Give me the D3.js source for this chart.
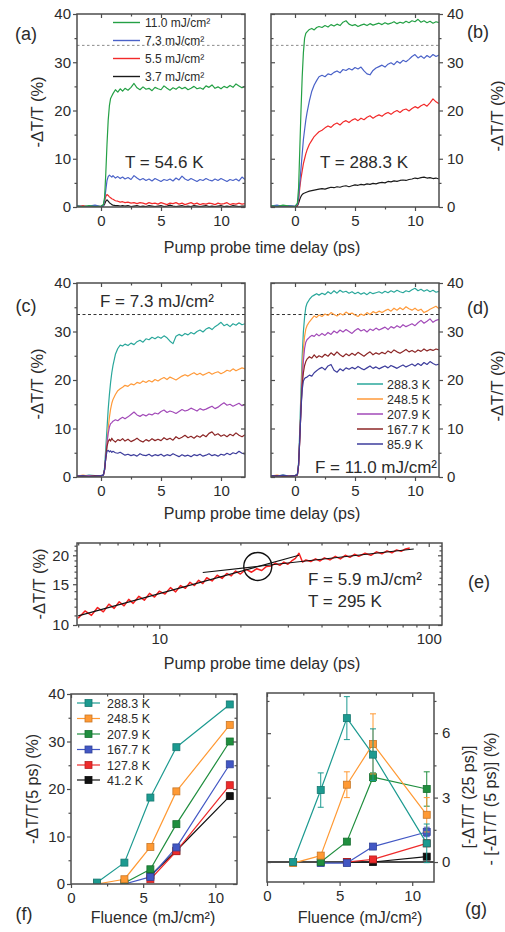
<!DOCTYPE html>
<html><head><meta charset="utf-8">
<script src="https://cdn.jsdelivr.net/npm/d3@7"></script>
<style>
body{margin:0;background:#fff;}
svg{display:block;font-family:"Liberation Sans",Arial,Helvetica,sans-serif;}
</style></head><body>
<svg id="fig" width="505" height="932"></svg>
<script>
// ---------------- DATA ----------------
// shared delay axis (ps) for panels a-d
const tDelay = [-2,-1.5,-1,-0.5,0,0.2,0.3,0.4,0.5,0.6,0.7,0.8,0.9,1.0,1.2,1.4,1.6,1.8,2.0,
 2.25,2.5,2.75,3.0,3.25,3.5,3.75,4.0,4.25,4.5,
 4.75,5.0,5.25,5.5,5.75,6.0,6.25,6.5,6.75,7.0,
 7.25,7.5,7.75,8.0,8.25,8.5,8.75,9.0,9.25,9.5,
 9.75,10.0,10.25,10.5,10.75,11.0,11.25,11.5,11.75,12.0];

const fluenceLabels = ["11.0 mJ/cm\u00B2","7.3 mJ/cm\u00B2","5.5 mJ/cm\u00B2","3.7 mJ/cm\u00B2"];
const dashedLevel = [33.5];

// (a) T = 54.6 K
const a_F110 = [0.2,0.1,0.3,0.1,0.2,0.5,2,7,13,18,21,22.5,23,23.5,24.3,23.8,24.5,24,24.6,
 24.2,24.8,25.6,24.7,24.3,24.9,24.4,24.6,24.1,24.8,
 24.5,24.3,25.1,24.6,24.2,24.7,24.4,24.9,24.5,24.8,
 24.3,24.6,25.0,24.5,24.7,24.4,25.1,24.8,25.3,24.6,
 24.9,24.5,25.0,24.7,25.2,24.8,25.5,25.1,24.7,25.0];
const a_F73 = [0.3,0.1,0.2,0.4,0.1,0.3,1.5,3.5,5.5,6.3,6.6,6.4,6.2,6.5,6.0,6.3,5.9,6.2,5.8,
 6.1,5.7,6.5,6.0,5.6,5.9,5.5,5.8,5.4,5.9,
 5.6,5.3,5.7,5.5,5.8,5.4,6.0,5.6,6.4,5.8,
 5.5,5.9,5.6,5.3,5.7,5.5,5.9,5.6,5.4,5.8,
 5.5,5.9,5.6,5.3,5.7,5.5,5.8,5.4,6.2,5.7];
const a_F55 = [0.1,0.3,0,0.2,0.1,0.4,1.2,2.2,2.6,2.4,2.1,1.9,1.7,1.6,1.3,1.2,1.0,1.1,0.9,
 1.0,0.8,0.9,0.7,0.9,0.8,0.6,0.9,0.7,0.8,
 0.6,0.9,0.7,0.5,0.8,0.7,0.9,0.6,0.8,0.5,
 0.7,0.9,0.6,0.8,0.5,0.7,0.6,0.8,0.7,0.5,
 0.8,0.6,0.7,0.9,0.5,0.7,0.6,0.8,0.6,0.7];
const a_F37 = [0,0.1,0,0.1,0,0.2,0.6,1.2,1.5,1.2,0.9,0.7,0.5,0.4,0.3,0.3,0.2,0.3,0.2,
 0.3,0.1,0.2,0.3,0.1,0.2,0.1,0.3,0.2,0.1,
 0.2,0.3,0.1,0.2,0.4,0.2,0.1,0.2,0.3,0.1,
 0.2,0.1,0.3,0.2,0.1,0.2,0.3,0.1,0.2,0.1,
 0.2,0.3,0.1,0.2,0.1,0.3,0.2,0.1,0.2,0.2];

// (b) T = 288.3 K
const b_F110 = [0.3,0.1,0.4,0.2,0.1,0.8,4,12,20,27,32,35,36,36.3,36.8,37.0,36.7,37.2,37.4,
 37.2,37.6,37.3,37.8,37.5,37.9,37.6,38.3,38.6,37.9,
 37.6,37.8,37.4,37.7,37.9,37.6,38.0,37.7,37.9,38.1,
 37.8,38.2,37.9,38.1,38.4,38.0,38.3,38.1,38.5,38.2,
 38.6,38.4,38.9,38.3,38.6,38.2,38.5,38.1,38.4,38.2];
const b_F73 = [0.2,0.4,0.1,0.3,0.2,0.5,2,5,8,11,14,16,18,19.5,22,24,25.3,26.2,27.0,
 27.3,27.0,27.6,27.4,27.9,28.2,27.8,28.5,28.3,28.7,
 28.4,28.9,28.6,29.0,28.2,27.6,27.4,28.3,28.8,29.1,
 29.4,29.0,29.6,29.9,29.5,30.2,29.8,30.4,30.1,30.6,
 31.2,31.6,30.9,31.3,30.8,31.4,31.0,31.6,31.2,31.5];
const b_F55 = [0.1,0.3,0,0.2,0.1,0.4,1.5,4,6,7.5,9,10,11,11.8,13,13.8,14.6,15.1,15.6,
 15.9,16.4,16.8,16.5,17.1,17.4,17.0,17.6,17.9,17.5,
 18.0,18.3,17.9,18.4,18.1,18.6,18.9,18.4,18.8,19.1,
 18.8,19.3,19.6,19.2,19.7,20.0,19.6,20.1,20.3,19.9,
 20.4,20.8,20.5,21.0,21.3,20.9,21.6,22.4,21.8,21.4];
const b_F37 = [0.1,0,0.2,0.1,0,0.2,0.8,1.6,2.2,2.6,2.8,2.9,3.0,3.1,3.3,3.4,3.5,3.6,3.7,
 3.8,3.7,3.9,4.1,4.0,4.2,4.1,4.3,4.4,4.2,
 4.4,4.6,4.5,4.7,4.6,4.8,4.7,4.9,4.8,5.0,
 5.1,5.0,5.3,5.2,5.4,5.3,5.5,5.6,5.5,5.7,
 5.8,6.0,5.9,6.1,6.2,6.0,6.1,5.9,6.0,5.8];

const tempLabelsCD = ["288.3 K","248.5 K","207.9 K","167.7 K","85.9 K"];
// (c) F = 7.3 mJ/cm2
const c_T2883 = [0.3,0.2,0.4,0.3,0.2,0.5,2,6,10,14,17,19.5,21.5,23,25.3,26.5,27.2,27.0,27.4,
 27.1,27.6,27.3,27.9,28.2,27.8,28.5,28.3,28.8,28.5,
 28.9,28.6,29.1,28.7,28.0,27.5,29.0,29.4,29.1,29.6,
 29.3,29.8,29.5,30.0,30.3,29.9,30.5,30.8,30.4,31.0,
 31.4,31.9,31.2,31.5,31.0,31.6,31.3,31.8,31.4,31.6];
const c_T2485 = [0.2,0.4,0.2,0.3,0.2,0.4,1.5,4,7,10,12.3,14,15.2,16.0,17.0,17.8,18.2,18.5,18.9,
 18.7,19.2,19.0,19.5,19.3,19.8,19.5,19.9,19.6,20.1,
 19.8,20.2,20.5,20.1,20.6,20.3,20.0,20.4,20.8,21.1,
 20.8,21.2,21.5,21.1,21.4,21.0,21.3,21.6,21.2,21.5,
 21.7,21.3,21.6,22.0,21.8,22.3,21.9,22.2,22.5,22.3];
const c_T2079 = [0.3,0.1,0.3,0.2,0.3,0.4,1.5,4,7,9,10.3,11.0,11.2,11.5,11.8,11.6,12.0,12.3,12.0,
 12.4,12.9,13.4,12.8,12.5,12.9,12.6,13.0,12.8,13.2,
 13.0,13.5,13.8,13.3,13.6,13.4,13.1,13.5,13.9,13.6,
 13.8,14.2,13.9,13.6,14.1,13.8,14.0,14.3,14.6,14.1,
 14.4,14.9,15.3,14.8,15.0,14.6,14.9,15.2,14.7,14.9];
const c_T1677 = [0.1,0.2,0.1,0.3,0.2,0.4,1.5,4,6.3,7.3,7.8,7.4,8.0,7.6,7.2,7.7,7.5,7.9,7.4,
 7.8,7.3,7.6,8.0,7.5,7.2,7.7,7.4,7.9,7.5,
 7.8,7.5,8.1,7.7,8.0,7.6,8.3,7.9,8.2,8.6,
 8.1,8.4,8.0,8.5,8.2,8.7,8.3,9.0,9.3,8.6,
 8.9,8.4,8.7,8.3,8.8,8.5,9.1,8.6,8.3,8.7];
const c_T859 = [0.2,0.3,0.1,0.2,0.3,0.4,1.5,4,5.3,5.5,5.2,5.4,5.1,5.3,5.0,4.9,5.1,4.8,4.5,
 4.7,4.4,4.6,4.3,4.8,4.5,4.4,4.7,4.3,4.6,
 4.4,4.7,4.3,4.6,4.4,4.8,4.5,4.2,4.6,4.3,
 4.5,4.2,4.6,4.4,4.7,4.3,4.5,4.8,4.4,4.6,
 4.3,4.7,4.5,4.9,4.6,5.0,4.8,5.3,4.9,4.7];

// (d) F = 11.0 mJ/cm2
const d_T2883 = [0.3,0.2,0.4,0.2,0.3,0.6,3,10,18,25,30,33,35,35.8,36.6,37.2,37.5,37.8,37.5,
 37.9,37.6,38.2,37.8,38.4,37.9,38.5,38.1,38.3,37.9,
 38.2,37.8,38.1,37.7,38.0,37.6,38.1,37.8,38.0,38.2,
 37.9,38.3,38.0,38.4,38.1,38.5,38.2,38.0,38.4,38.2,
 38.6,38.9,38.4,38.7,38.3,38.6,38.2,38.5,38.1,38.3];
const d_T2485 = [0.2,0.4,0.2,0.3,0.2,0.5,2.5,8,15,22,26.5,29,30.5,31.2,32.0,32.6,33.2,32.9,33.4,
 33.1,33.6,33.3,33.9,33.5,33.2,33.7,33.4,34.0,33.6,
 33.8,33.4,33.1,33.6,33.3,33.9,33.5,34.1,33.8,34.2,
 33.9,34.3,34.6,34.2,34.8,34.4,34.9,34.5,35.1,34.7,
 34.4,34.8,34.3,34.6,33.9,34.2,34.6,34.9,35.2,34.7];
const d_T2079 = [0.3,0.2,0.3,0.1,0.2,0.5,2.5,8,14,20,24,26.5,27.8,28.3,28.8,29.2,29.0,29.5,29.1,
 29.6,29.2,29.8,29.4,30.1,29.7,30.3,29.9,30.4,30.0,
 29.6,30.2,30.6,30.1,30.4,29.9,30.5,30.2,30.7,30.3,
 30.6,30.9,30.4,31.0,30.7,31.2,30.8,31.4,31.0,31.3,
 31.6,31.2,31.8,32.3,31.7,32.1,32.6,31.9,32.3,32.5];
const d_T1677 = [0.2,0.3,0.1,0.2,0.3,0.4,2.5,8,14,19,21.5,23,23.8,24.3,24.8,24.5,25.2,24.6,25.0,
 24.7,25.3,24.9,25.6,25.1,25.8,25.2,24.8,25.4,25.0,
 25.5,25.1,25.7,25.3,24.9,25.4,25.8,25.2,25.6,25.3,
 25.7,25.4,26.0,25.6,26.2,25.8,25.5,25.9,26.3,25.8,
 26.1,25.7,26.2,25.9,26.4,26.0,26.3,26.1,26.4,26.2];
const d_T859 = [0.3,0.2,0.4,0.2,0.3,0.5,2.5,8,14,18,19.8,20.3,20.5,20.6,21.0,20.8,21.5,21.9,22.3,
 22.6,22.1,22.9,23.2,22.0,21.6,22.3,21.9,22.5,22.2,
 22.6,22.3,22.8,22.4,22.1,22.5,22.9,22.4,22.7,22.3,
 22.6,22.9,22.5,23.0,22.7,22.4,22.8,23.1,22.7,23.0,
 23.3,22.9,23.4,23.0,23.6,23.2,23.8,23.4,23.1,23.3];

// (e) F = 5.9 mJ/cm2, T = 295 K (log-log)
const eTime = [5,5.3,5.6,5.9,6.2,6.5,6.8,7.1,7.4,7.7,
 8.0,8.4,8.8,9.2,9.6,10,10.5,11,11.5,12,
 12.5,13,13.5,14,14.5,15,15.7,16.4,17.1,17.8,
 18.5,19.2,20,21,22,23,24,25,26,27,
 28,29,30,31,32,33,34,35,36.5,38,
 39.5,41,43,45,47,49,51,53,55,58,
 61,64,67,70,73,76,79,82,85];
const eSignal = [10.7,11.5,11.0,11.9,11.4,12.3,11.8,12.6,12.1,12.9,
 12.4,13.3,12.8,13.7,13.2,14.0,13.6,14.5,13.9,14.8,
 14.4,15.3,14.8,15.6,15.1,16.0,15.5,16.4,15.9,16.7,
 16.3,17.1,16.6,17.4,16.9,17.5,17.2,17.9,18.0,18.5,
 18.1,18.7,18.3,18.9,19.4,20.4,18.7,19.1,18.8,19.3,
 18.9,19.5,19.1,19.8,19.3,20.0,19.6,20.2,19.8,20.4,
 20.0,20.7,20.3,20.9,20.5,21.1,20.8,21.3,21.5];
const eFitEarlyT = [5,33], eFitEarlyV = [10.95,20.0];
const eFitLateT = [14.5,88], eFitLateV = [16.85,21.3];
const eCrossing = [23.2,17.9];

// (f), (g)
const fluence = [1.8,3.7,5.5,7.3,11.0];
const tempLabelsFG = ["288.3 K","248.5 K","207.9 K","167.7 K","127.8 K","41.2 K"];
const f_T2883 = [0.3,4.5,18.2,28.8,37.8];
const f_T2485 = [0,1.0,7.8,19.5,33.5];
const f_T2079 = [null,0.2,3.1,12.6,30.0];
const f_T1677 = [null,0,1.5,7.7,25.2];
const f_T1278 = [null,null,1.0,6.9,20.8];
const f_T412  = [null,null,1.8,7.0,18.5];

const g_T2883 = [0,3.35,6.7,5.0,0.87],   g_T2883err = [0,0.8,1.0,1.2,0.9];
const g_T2485 = [-0.05,0.3,3.6,5.5,2.2], g_T2485err = [0,0,0.6,1.4,0.8];
const g_T2079 = [null,0,0.95,3.95,3.4],  g_T2079err = [0,0,0,0.2,0.8];
const g_T1677 = [null,-0.05,-0.05,0.72,1.4], g_T1677err = [0,0,0,0.1,0.22];
const g_T1278 = [null,null,0,0.12,0.87], g_T1278err = [0,0,0,0.1,0.15];
const g_T412  = [null,null,0,0,0.25],    g_T412err  = [0,0,0,0,0.1];

// tick values
const tMajor = [0,5,10], tMinor = [2.5,7.5];
const pctMajor = [0,10,20,30,40], pctMinor = [5,15,25,35];
const eXMajor = [10,100], eXMinor = [5,6,7,8,9,20,30,40,50,60,70,80,90];
const eYMajor = [10,15,20], eYMinor = [11,12,13,14,16,17,18,19,21,22];
const flMajor = [0,5,10], flMinor = [2.5,7.5];
const gYMajor = [0,3,6], gYMinor = [1.5,4.5,7.5];

// ---------------- DRAWING ----------------
const svg = d3.select("#fig");
const FONT = '"Liberation Sans", Arial, sans-serif';
const AX = "#4d4d4d", TXT = "#2b2b2b";
const colAB = ["#24a045","#4a62c8","#f22a2a","#1a1a1a"];
const colCD = ["#2aa79b","#ff9a3a","#a24ab8","#8c2626","#3d3d9c"];
const colFG = ["#1c9a90","#ff9933","#1f8e3e","#4257c4","#ee2b2b","#111111"];
let clipN = 0;

function panel(xs, ys, o) {
  const g = svg.append("g");
  const [xa, xb] = xs.range();
  const yb = ys.range()[0], yt = ys.range()[1];
  const id = "clip" + (clipN++);
  svg.append("clipPath").attr("id", id).append("rect")
    .attr("x", xa).attr("y", yt).attr("width", xb - xa).attr("height", yb - yt);
  const data = g.append("g").attr("clip-path", `url(#${id})`);
  const axG = g.append("g");
  const fx = o.xFmt || (d => d), fy = o.yFmt || (d => d);
  const add = (tr, ax) => axG.append("g").attr("transform", tr).call(ax);
  add(`translate(0,${yb})`, d3.axisBottom(xs).tickValues(o.xMajor).tickSize(4).tickPadding(4).tickFormat(fx));
  add(`translate(0,${yb})`, d3.axisBottom(xs).tickValues(o.xMinor).tickSize(2.5).tickFormat(""));
  add(`translate(0,${yt})`, d3.axisBottom(xs).tickValues(o.xMajor).tickSize(4).tickFormat(""));
  add(`translate(0,${yt})`, d3.axisBottom(xs).tickValues(o.xMinor).tickSize(2.5).tickFormat(""));
  if (o.ySide === "left") {
    add(`translate(${xa},0)`, d3.axisLeft(ys).tickValues(o.yMajor).tickSize(4).tickPadding(o.yPad || 2).tickFormat(fy));
    add(`translate(${xa},0)`, d3.axisLeft(ys).tickValues(o.yMinor).tickSize(2.5).tickFormat(""));
    add(`translate(${xb},0)`, d3.axisLeft(ys).tickValues(o.yMajor).tickSize(4).tickFormat(""));
    add(`translate(${xb},0)`, d3.axisLeft(ys).tickValues(o.yMinor).tickSize(2.5).tickFormat(""));
  } else {
    add(`translate(${xb},0)`, d3.axisRight(ys).tickValues(o.yMajor).tickSize(4).tickPadding(o.yPad || 4).tickFormat(fy));
    add(`translate(${xb},0)`, d3.axisRight(ys).tickValues(o.yMinor).tickSize(2.5).tickFormat(""));
    add(`translate(${xa},0)`, d3.axisRight(ys).tickValues(o.yMajor).tickSize(4).tickFormat(""));
    add(`translate(${xa},0)`, d3.axisRight(ys).tickValues(o.yMinor).tickSize(2.5).tickFormat(""));
  }
  axG.selectAll(".domain").remove();
  axG.selectAll("line").attr("stroke", AX).attr("stroke-width", 1.2);
  axG.selectAll("text").attr("font-size", 15).attr("fill", TXT).attr("font-family", FONT);
  g.append("rect").attr("x", xa).attr("y", yt).attr("width", xb - xa).attr("height", yb - yt)
    .attr("fill", "none").attr("stroke", AX).attr("stroke-width", 1.5);
  return data;
}

function txt(x, y, s, size, anchor, rot) {
  const t = svg.append("text").attr("font-size", size).attr("fill", TXT)
    .attr("text-anchor", anchor || "start").attr("font-family", FONT);
  if (rot) t.attr("transform", `translate(${x},${y}) rotate(${rot})`).attr("dy", "0.35em");
  else t.attr("x", x).attr("y", y);
  t.text(s);
  return t;
}

function trace(g, xs, ys, tArr, vArr, color, w) {
  const pts = tArr.map((t, i) => [t, vArr[i]]).filter(p => p[1] != null);
  g.append("path").datum(pts)
    .attr("d", d3.line().x(p => xs(p[0])).y(p => ys(p[1])))
    .attr("fill", "none").attr("stroke", color).attr("stroke-width", w || 1.2)
    .attr("stroke-linejoin", "round");
}

function dashed(g, xs, ys, dash, color) {
  g.selectAll(null).data(dashedLevel).enter().append("line")
    .attr("x1", xs.range()[0]).attr("x2", xs.range()[1])
    .attr("y1", d => ys(d)).attr("y2", d => ys(d))
    .attr("stroke", color).attr("stroke-width", 1).attr("stroke-dasharray", dash);
}

// ---- (a)
const xA = d3.scaleLinear([-2, 12], [77, 245]);
const yA = d3.scaleLinear([0, 40], [207, 14]);
const gA = panel(xA, yA, {xMajor: tMajor, xMinor: tMinor, yMajor: pctMajor, yMinor: pctMinor, ySide: "left"});
dashed(gA, xA, yA, "2.5,2.5", "#8a8a8a");
[a_F37, a_F55, a_F73, a_F110].forEach((s, i) => trace(gA, xA, yA, tDelay, s, colAB[3 - i]));
[22.5, 40.5, 58.5, 76.5].forEach((yy, i) => {
  svg.append("line").attr("x1", 113).attr("x2", 140).attr("y1", yy).attr("y2", yy)
    .attr("stroke", colAB[i]).attr("stroke-width", 1.4);
  txt(145, yy + 4.5, fluenceLabels[i], 12);
});
txt(125, 168, "T = 54.6 K", 17);
txt(26, 40, "(a)", 18, "middle");
txt(37, 112, "-\u0394T/T (%)", 16.5, "middle", -90);

// ---- (b)
const xB = d3.scaleLinear([-2, 12], [271, 439]);
const gB = panel(xB, yA, {xMajor: tMajor, xMinor: tMinor, yMajor: pctMajor, yMinor: pctMinor, ySide: "right"});
dashed(gB, xB, yA, "2.5,2.5", "#8a8a8a");
[b_F37, b_F55, b_F73, b_F110].forEach((s, i) => trace(gB, xB, yA, tDelay, s, colAB[3 - i]));
txt(320, 168, "T = 288.3 K", 17);
txt(478, 38, "(b)", 18, "middle");
txt(497, 116, "-\u0394T/T (%)", 16.5, "middle", -90);

txt(262, 253, "Pump probe time delay (ps)", 16, "middle");

// ---- (c)
const yC = d3.scaleLinear([0, 40], [477, 283]);
const gC = panel(xA, yC, {xMajor: tMajor, xMinor: tMinor, yMajor: pctMajor, yMinor: pctMinor, ySide: "left"});
dashed(gC, xA, yC, "3,2.5", "#333");
[c_T2883, c_T2485, c_T2079, c_T1677, c_T859].forEach((s, i) => trace(gC, xA, yC, tDelay, s, colCD[i]));
txt(100, 307, "F = 7.3 mJ/cm\u00B2", 17);
txt(26, 312, "(c)", 18, "middle");
txt(37, 384, "-\u0394T/T (%)", 16.5, "middle", -90);

// ---- (d)
const gD = panel(xB, yC, {xMajor: tMajor, xMinor: tMinor, yMajor: pctMajor, yMinor: pctMinor, ySide: "right"});
dashed(gD, xB, yC, "3,2.5", "#333");
[d_T2883, d_T2485, d_T2079, d_T1677, d_T859].forEach((s, i) => trace(gD, xB, yC, tDelay, s, colCD[i]));
[384, 399, 414, 429, 444].forEach((yy, i) => {
  svg.append("line").attr("x1", 357).attr("x2", 383).attr("y1", yy).attr("y2", yy)
    .attr("stroke", colCD[i]).attr("stroke-width", 1.5);
  txt(387, yy + 4.5, tempLabelsCD[i], 12.5);
});
txt(315, 473, "F = 11.0 mJ/cm\u00B2", 17);
txt(478, 314, "(d)", 18, "middle");
txt(497, 386, "-\u0394T/T (%)", 16.5, "middle", -90);

txt(262, 519, "Pump probe time delay (ps)", 16, "middle");

// ---- (e)
const xE = d3.scaleLog([4.95, 112], [77, 442]);
const yE = d3.scaleLog([10, 22.6], [625, 543]);
const gE = panel(xE, yE, {xMajor: eXMajor, xMinor: eXMinor, yMajor: eYMajor, yMinor: eYMinor, ySide: "left", yPad: 4,
  xFmt: d3.format("d"), yFmt: d3.format("d")});
trace(gE, xE, yE, eTime, eSignal, "#f52020", 1.5);
trace(gE, xE, yE, eFitEarlyT, eFitEarlyV, "#111", 1.1);
trace(gE, xE, yE, eFitLateT, eFitLateV, "#111", 1.1);
gE.append("circle").attr("cx", xE(eCrossing[0])).attr("cy", yE(eCrossing[1])).attr("r", 14)
  .attr("fill", "none").attr("stroke", "#111").attr("stroke-width", 1.4);
txt(308, 585, "F = 5.9 mJ/cm\u00B2", 17);
txt(308, 607, "T = 295 K", 17);
txt(479, 588, "(e)", 18, "middle");
txt(39, 584, "-\u0394T/T (%)", 16.5, "middle", -90);
txt(262, 669, "Pump probe time delay (ps)", 16, "middle");

// ---- (f)
const xF = d3.scaleLinear([0, 11.5], [71, 237]);
const yF = d3.scaleLinear([0, 40], [884, 694]);
const gF = panel(xF, yF, {xMajor: flMajor, xMinor: flMinor, yMajor: pctMajor, yMinor: pctMinor, ySide: "left", yPad: 2});
const fSeries = [f_T2883, f_T2485, f_T2079, f_T1677, f_T1278, f_T412];
function markers(g, xs, ys, vals, color) {
  const pts = fluence.map((f, i) => [f, vals[i]]).filter(p => p[1] != null);
  g.selectAll(null).data(pts).enter().append("rect")
    .attr("x", p => xs(p[0]) - 3.5).attr("y", p => ys(p[1]) - 3.5)
    .attr("width", 7).attr("height", 7)
    .attr("fill", color).attr("stroke", d3.color(color).darker(0.7)).attr("stroke-width", 0.8);
}
const fOrder = [5, 4, 3, 2, 1, 0];
fOrder.forEach(i => trace(gF, xF, yF, fluence, fSeries[i], colFG[i], 1.2));
fOrder.forEach(i => markers(gF, xF, yF, fSeries[i], colFG[i]));
[703, 718.5, 734, 749.5, 765, 780].forEach((yy, i) => {
  svg.append("line").attr("x1", 77).attr("x2", 100).attr("y1", yy).attr("y2", yy)
    .attr("stroke", colFG[i]).attr("stroke-width", 1.2);
  svg.append("rect").attr("x", 85).attr("y", yy - 3.5).attr("width", 7).attr("height", 7)
    .attr("fill", colFG[i]).attr("stroke", d3.color(colFG[i]).darker(0.7)).attr("stroke-width", 0.8);
  txt(107, yy + 4.5, tempLabelsFG[i], 12.5);
});
txt(32, 789, "-\u0394T/T(5 ps) (%)", 16, "middle", -90);
txt(153, 923, "Fluence (mJ/cm\u00B2)", 16, "middle");
txt(24, 920, "(f)", 18, "middle");

// ---- (g)
const xG = d3.scaleLinear([0, 11.5], [267, 434]);
const yG = d3.scaleLinear([-0.93, 7.87], [882, 693]);
const gG = panel(xG, yG, {xMajor: flMajor, xMinor: flMinor, yMajor: gYMajor, yMinor: gYMinor, ySide: "right", yPad: 4});
gG.append("line").attr("x1", 267).attr("x2", 434).attr("y1", yG(0)).attr("y2", yG(0))
  .attr("stroke", "#111").attr("stroke-width", 1.4);
const gSeries = [g_T2883, g_T2485, g_T2079, g_T1677, g_T1278, g_T412];
const gErr = [g_T2883err, g_T2485err, g_T2079err, g_T1677err, g_T1278err, g_T412err];
fOrder.forEach(i => trace(gG, xG, yG, fluence, gSeries[i], colFG[i], 1.2));
fOrder.forEach(i => {
  const pts = fluence.map((f, k) => [f, gSeries[i][k], gErr[i][k]]).filter(p => p[1] != null && p[2] > 0);
  const c = colFG[i];
  pts.forEach(p => {
    const x = xG(p[0]), y1 = yG(p[1] - p[2]), y2 = yG(p[1] + p[2]);
    gG.append("line").attr("x1", x).attr("x2", x).attr("y1", y1).attr("y2", y2).attr("stroke", c).attr("stroke-width", 1);
    [y1, y2].forEach(yy => gG.append("line").attr("x1", x - 3).attr("x2", x + 3).attr("y1", yy).attr("y2", yy)
      .attr("stroke", c).attr("stroke-width", 1));
  });
  markers(gG, xG, yG, gSeries[i], c);
});
txt(468, 797, "[-\u0394T/T (25 ps)]", 16, "middle", -90);
txt(490, 799, "- [-\u0394T/T (5 ps)] (%)", 16, "middle", -90);
txt(360, 923, "Fluence (mJ/cm\u00B2)", 16, "middle");
txt(476, 915, "(g)", 18, "middle");
</script>
</body></html>
